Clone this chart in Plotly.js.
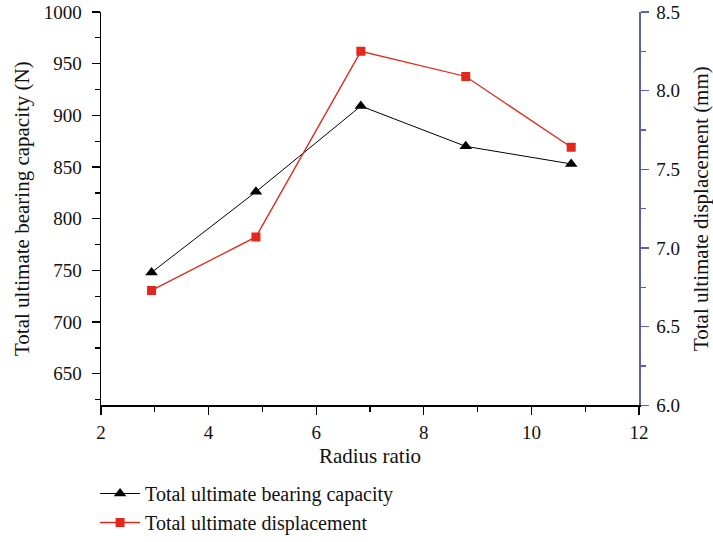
<!DOCTYPE html>
<html>
<head>
<meta charset="utf-8">
<script src="https://cdn.plot.ly/plotly-3.0.1.min.js"></script>
<style>html,body{margin:0;padding:0;background:#fff;}#chart{width:713px;height:542px;}</style>
</head>
<body>
<div id="chart"></div>
<script>
const radiusRatio = [2.94, 4.88, 6.83, 8.78, 10.74];
const bearingCapacity = [748, 826, 909, 870, 853];
const displacement = [6.73, 7.07, 8.25, 8.09, 7.64];
const seriesNames = ["Total ultimate bearing capacity", "Total ultimate displacement"];
const xTitle = "Radius ratio";
const yTitle = "Total ultimate bearing capacity (N)";
const y2Title = "Total ultimate displacement (mm)";

const font = "Liberation Serif, Times New Roman, serif";
const axisBlue = "#5a5fb8";
const tickSize = 19, titleSize = 21;

const traces = [
  {
    x: radiusRatio, y: bearingCapacity, name: seriesNames[0],
    type: "scatter", mode: "lines+markers",
    line: {color: "#000000", width: 1},
    marker: {symbol: "triangle-up", size: 11, color: "#000000"},
    yaxis: "y"
  },
  {
    x: radiusRatio, y: displacement, name: seriesNames[1],
    type: "scatter", mode: "lines+markers",
    line: {color: "#e2271d", width: 1.3},
    marker: {symbol: "square", size: 9, color: "#e2271d"},
    yaxis: "y2"
  }
];

const layout = {
  width: 713, height: 542,
  margin: {l: 101, r: 74, t: 12, b: 0},
  paper_bgcolor: "#fff", plot_bgcolor: "#fff",
  font: {family: font, size: tickSize, color: "#111"},
  showlegend: true,
  legend: {
    x: -0.011, xanchor: "left", y: 0.127, yanchor: "top",
    bgcolor: "rgba(0,0,0,0)", font: {family: font, size: 20, color: "#111"},
    tracegroupgap: 0, itemwidth: 40
  },
  xaxis: {
    range: [2, 12], tickvals: [2, 4, 6, 8, 10, 12],
    showgrid: false, zeroline: false,
    showline: true, linecolor: "#000", linewidth: 1.5,
    ticks: "outside", ticklen: 8, tickwidth: 1.3, tickcolor: "#000",
    ticklabelstandoff: 1,
    minor: {dtick: 1, ticks: "outside", ticklen: 5, tickwidth: 1.3, tickcolor: "#000", showgrid: false},
    title: {text: xTitle, font: {family: font, size: titleSize}, standoff: 6},
    tickfont: {family: font, size: tickSize}
  },
  yaxis: {
    domain: [(542 - 406) / 530, 1],
    range: [619.5, 1000], tickvals: [650, 700, 750, 800, 850, 900, 950, 1000],
    showgrid: false, zeroline: false,
    showline: true, linecolor: "#000", linewidth: 1.5,
    ticks: "outside", ticklen: 8, tickwidth: 1.3, tickcolor: "#000",
    ticklabelstandoff: 6,
    minor: {tickvals: [625, 675, 725, 775, 825, 875, 925, 975], ticks: "outside", ticklen: 5, tickwidth: 1.3, tickcolor: "#000", showgrid: false},
    title: {text: yTitle, font: {family: font, size: titleSize}, standoff: 8},
    tickfont: {family: font, size: tickSize}
  },
  yaxis2: {
    overlaying: "y", side: "right",
    range: [6.0, 8.5], tickvals: [6.0, 6.5, 7.0, 7.5, 8.0, 8.5], ticktext: ["6.0","6.5","7.0","7.5","8.0","8.5"],
    showgrid: false, zeroline: false,
    showline: true, linecolor: axisBlue, linewidth: 1.5,
    ticks: "outside", ticklen: 8, tickwidth: 1.3, tickcolor: axisBlue,
    ticklabelstandoff: 4,
    minor: {tickvals: [6.25, 6.75, 7.25, 7.75, 8.25], ticks: "outside", ticklen: 5, tickwidth: 1.3, tickcolor: axisBlue, showgrid: false},
    title: {text: y2Title, font: {family: font, size: titleSize}, standoff: 16},
    tickfont: {family: font, size: tickSize}
  }
};

Plotly.newPlot("chart", traces, layout, {displayModeBar: false, staticPlot: true});
</script>
</body>
</html>
